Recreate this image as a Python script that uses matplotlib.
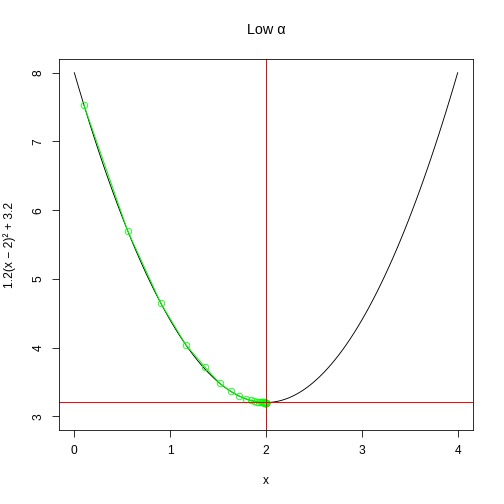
import numpy as np
import matplotlib
matplotlib.use("Agg")
import matplotlib.pyplot as plt

plt.rcParams['font.family'] = ['Liberation Sans', 'DejaVu Sans']

# f(x) = a (x - m)^2 + c, as given on the y label
a, m, c = 1.2, 2.0, 3.2
x_from, x_to = 0.0, 4.0

# gradient descent steps
gd_x = [0.100, 0.556, 0.903, 1.166, 1.366, 1.518, 1.634, 1.722, 1.789, 1.840,
        1.878, 1.907, 1.929, 1.946, 1.959, 1.969, 1.977, 1.982, 1.987, 1.990,
        1.992, 1.994, 1.996, 1.997, 1.997, 1.998, 1.999, 1.999, 1.999, 2.000,
        2.000, 2.000, 2.000, 2.000, 2.000, 2.000, 2.000, 2.000, 2.000, 2.000]
gd_y = [7.532, 5.702, 4.645, 4.036, 3.712, 3.479, 3.361, 3.293, 3.253, 3.231,
        3.218, 3.210, 3.206, 3.203, 3.202, 3.201, 3.201, 3.200, 3.200, 3.200,
        3.200, 3.200, 3.200, 3.200, 3.200, 3.200, 3.200, 3.200, 3.200, 3.200,
        3.200, 3.200, 3.200, 3.200, 3.200, 3.200, 3.200, 3.200, 3.200, 3.200]

fig = plt.figure(figsize=(7, 7), dpi=72)
ax = fig.add_axes([59/504, 74/504, 414/504, 371/504])

xs = np.linspace(x_from, x_to, 101)
ax.plot(xs, a * (xs - m) ** 2 + c, color='black', lw=0.9)
ax.plot(gd_x, gd_y, color='#00ff00', lw=1, marker='o', ms=6.5,
        mfc='none', mec='#00ff00', mew=0.8)
ax.axvline(m, color='#ff0000', lw=1)
ax.axhline(c, color='#ff0000', lw=1, snap=False)

ax.set_xlim(-0.16, 4.16)
ax.set_ylim(2.8, 8.2)
ax.set_xticks([0, 1, 2, 3, 4])
ax.set_yticks([3, 4, 5, 6, 7, 8])
ax.tick_params(length=7.2, width=0.8, labelsize=12)
ax.tick_params(axis='x', pad=8)
ax.tick_params(axis='y', pad=7)
for lab in ax.get_yticklabels():
    lab.set_rotation(90)
    lab.set_va('center')
for s in ax.spines.values():
    s.set_linewidth(0.8)

fig.text(266/504, 1 - 30/504, 'Low α', ha='center', va='center', fontsize=14.4)
fig.text(266/504, 1 - 481/504, 'x', ha='center', va='center', fontsize=12)
fig.text(10/504, 1 - 245/504, '1.2(x − 2)² + 3.2', ha='center', va='center',
         rotation=90, fontsize=12)

fig.savefig('out.png', dpi=72)
